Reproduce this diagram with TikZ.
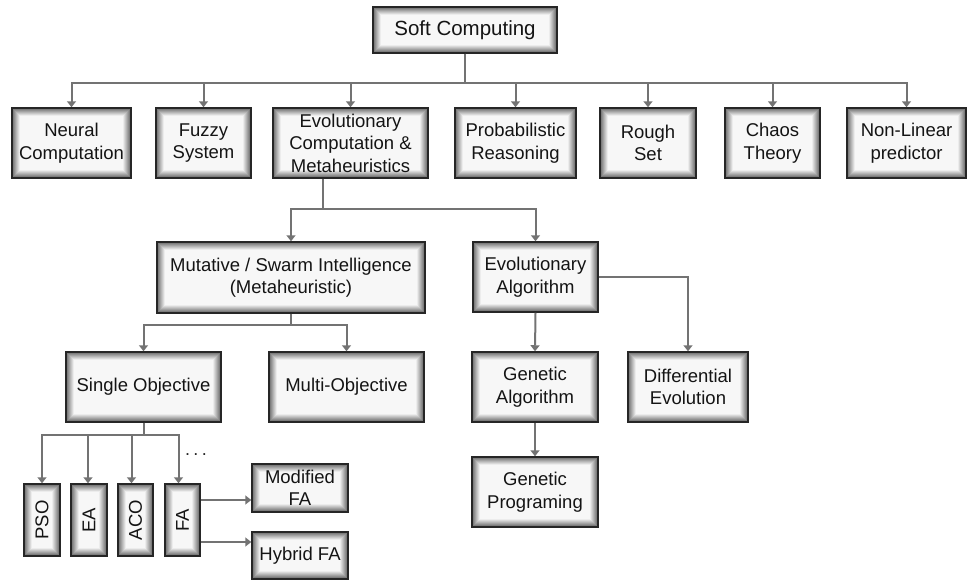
\documentclass[tikz,border=0pt]{standalone}
\usepackage{fontspec}
\usepackage{graphicx}
\setmainfont{Liberation Sans}
\usetikzlibrary{arrows.meta}

\tikzset{
  box/.style={
    draw=black!85, line width=1.5pt, fill=black!3, inner sep=0pt,
    align=center, text=black!92, font=\fontsize{18.5}{22.5}\selectfont,
    path picture={
      % soft inner shadow along the edges
      \foreach \k in {0,...,7}{
        \pgfmathsetmacro\shd{58-7.2*\k}
        \pgfmathsetmacro\dd{0.7+1.0*\k}
        \draw[line width=1.1pt, black!\shd]
          ([shift={(\dd pt,\dd pt)}]path picture bounding box.south west) rectangle
          ([shift={(-\dd pt,-\dd pt)}]path picture bounding box.north east);
      }
    }
  },
  conn/.style={draw=black!55, line width=2pt, -{Triangle[width=9pt,length=6pt]}},
}

% \placebox[style]{name}{x1}{y1}{x2}{y2}{text}
\newcommand\placebox[7][]{%
  \node[box, #1, minimum width={(#5-#3)*1pt}, minimum height={(#6-#4)*1pt}]
    (#2) at ({(#3+#5)/2},{(#4+#6)/2}) {#7};}

\begin{document}
\begin{tikzpicture}[x=1pt,y=-1pt]
\useasboundingbox (0,0) rectangle (968,581);

% top level
\placebox[font=\fontsize{20.5}{24}\selectfont]{soft}{373}{7}{557}{53}{Soft Computing}

% first row
\placebox{neural}{12}{108}{131}{178}{Neural\\Computation}
\placebox{fuzzy}{156}{108}{251}{178}{Fuzzy\\System}
\placebox{evo}{273}{108}{428}{178}{Evolutionary\\Computation \&\\Metaheuristics}
\placebox{prob}{455}{108}{576}{178}{Probabilistic\\Reasoning}
\placebox{rough}{600}{108}{696}{178}{Rough\\Set}
\placebox{chaos}{725}{108}{820}{178}{Chaos\\Theory}
\placebox{nonlin}{847}{108}{966}{178}{Non-Linear\\predictor}

% second row
\placebox{mut}{157}{242}{425}{313}{Mutative / Swarm Intelligence\\(Metaheuristic)}
\placebox{evoalg}{473}{242}{598}{312}{Evolutionary\\Algorithm}

% third row
\placebox{single}{66}{352}{221}{422}{Single Objective}
\placebox{multi}{269}{352}{424}{422}{Multi-Objective}
\placebox{genetic}{472}{352}{598}{422}{Genetic\\Algorithm}
\placebox{diff}{628}{352}{748}{422}{Differential\\Evolution}

% bottom
\placebox{gprog}{472}{457}{598}{527}{Genetic\\Programing}
\placebox{pso}{24}{484}{60}{556}{\rotatebox{90}{PSO}}
\placebox{ea}{71}{484}{107}{556}{\rotatebox{90}{EA}}
\placebox{aco}{118}{484}{153}{556}{\rotatebox{90}{ACO}}
\placebox{fa}{165}{484}{200}{556}{\rotatebox{90}{FA}}
\placebox{modfa}{252}{464}{348}{512}{Modified\\FA}
\placebox{hybfa}{252}{532}{348}{579}{Hybrid FA}

\node[font=\fontsize{18}{22}\selectfont, text=black!85] (dots) at (196,455) {.\hspace{3.5pt}.\hspace{3.5pt}.};

% connectors from the root
\foreach \t in {neural,fuzzy,evo,prob,rough,chaos,nonlin}
  \draw[conn] (soft.south) -- ++(0,29) -| (\t.north);

% evolutionary computation branch
\draw[conn] ([xshift=-28pt]evo.south) -- ++(0,30) -| (mut.north);
\draw[conn] ([xshift=-28pt]evo.south) -- ++(0,30) -| (evoalg.north);

% swarm branch
\draw[conn] (mut.south) -- ++(0,11) -| (single.north);
\draw[conn] (mut.south) -- ++(0,11) -| (multi.north);

% evolutionary algorithm branch
\draw[conn] (evoalg.south) -- (genetic.north);
\draw[conn] (evoalg.east) -| (diff.north);
\draw[conn] (genetic.south) -- (gprog.north);

% single objective algorithms
\draw[conn] (single.south) -- ++(0,12) -| (pso.north);
\draw[conn] (single.south) -- ++(0,12) -| ([xshift=-1pt]ea.north);
\draw[conn] (single.south) -- ++(0,12) -| ([xshift=-4pt]aco.north);
\draw[conn] (single.south) -- ++(0,12) -| ([xshift=-4pt]fa.north);

% FA variants
\coordinate (faA) at ([yshift=20pt]fa.east);
\coordinate (faB) at ([yshift=-22pt]fa.east);
\draw[conn] (faA) -- (faA -| modfa.west);
\draw[conn] (faB) -- (faB -| hybfa.west);
\end{tikzpicture}
\end{document}
